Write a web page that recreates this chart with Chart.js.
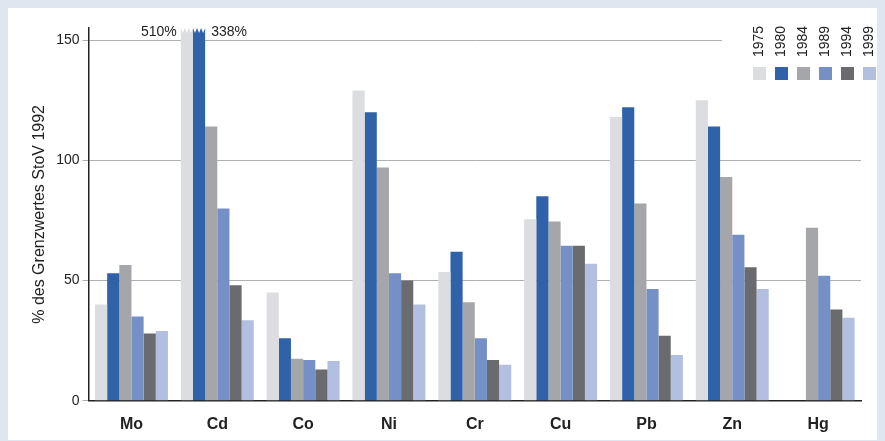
<!DOCTYPE html>
<html><head><meta charset="utf-8">
<script src="https://cdn.jsdelivr.net/npm/chart.js@4"></script>
<style>
body{margin:0;background:#dfe6f0;}
#wrap{position:absolute;left:8px;top:8px;width:869px;height:432px;background:#fff;}
</style></head><body>
<div id="wrap"><canvas id="c"></canvas></div>
<script>
const categories = ['Mo','Cd','Co','Ni','Cr','Cu','Pb','Zn','Hg'];
const years = ['1975','1980','1984','1989','1994','1999'];
const colors = ['#dcdde0','#2f62a8','#a5a6a9','#7590c6','#6a6b6f','#b3bfe0'];
const v1975 = [40, 510, 45, 129, 53.5, 75.5, 118, 125, null];
const v1980 = [53, 338, 26, 120, 62, 85, 122, 114, null];
const v1984 = [56.5, 114, 17.5, 97, 41, 74.5, 82, 93, 72];
const v1989 = [35, 80, 17, 53, 26, 64.5, 46.5, 69, 52];
const v1994 = [28, 48, 13, 50, 17, 64.5, 27, 55.5, 38];
const v1999 = [29, 33.5, 16.5, 40, 15, 57, 19, 46.5, 34.5];
const series = [v1975, v1980, v1984, v1989, v1994, v1999];
const yTicks = [0, 50, 100, 150];

const extras = {
  id: 'extras',
  beforeDatasetsDraw(chart) {
    const ctx = chart.ctx, y150 = chart.scales.y.getPixelForValue(150);
    ctx.save();
    ctx.fillStyle = '#fff';
    ctx.fillRect(714, y150 - 2, chart.chartArea.right - 714 + 1, 4);
    ctx.restore();
  },
  afterDatasetsDraw(chart) {
    const ctx = chart.ctx, top = chart.chartArea.top;
    ctx.save();
    [0, 1].forEach(d => {
      const bar = chart.getDatasetMeta(d).data[1];
      const l = bar.x - bar.width / 2, w = bar.width;
      ctx.fillStyle = '#fff';
      ctx.beginPath();
      ctx.moveTo(l - 1, top - 1);
      for (let i = 0; i <= 6; i++) ctx.lineTo(l + w * i / 6, top + (i % 2 ? 5 : 0));
      ctx.lineTo(l + w + 1, top - 1);
      ctx.fill();
    });
    ctx.fillStyle = '#222';
    ctx.font = '14px "Liberation Sans", Arial';
    ctx.textBaseline = 'middle';
    const b0 = chart.getDatasetMeta(0).data[1], b1 = chart.getDatasetMeta(1).data[1];
    ctx.textAlign = 'right';
    ctx.fillText(v1975[1] + '%', b0.x - b0.width / 2 - 4, top + 4);
    ctx.textAlign = 'left';
    ctx.fillText(v1980[1] + '%', b1.x + b1.width / 2 + 6, top + 4);
    const lx = 751, step = 22;
    years.forEach((yr, i) => {
      const x = lx + i * step;
      ctx.fillStyle = colors[i];
      ctx.fillRect(x - 6, 59, 13, 13);
      ctx.save();
      ctx.translate(x, 49);
      ctx.rotate(-Math.PI / 2);
      ctx.fillStyle = '#222';
      ctx.textAlign = 'left';
      ctx.fillText(yr, 0, 0);
      ctx.restore();
    });
    ctx.restore();
  }
};

new Chart(document.getElementById('c'), {
  type: 'bar',
  data: {
    labels: categories,
    datasets: series.map((s, i) => ({
      label: years[i], data: s, backgroundColor: colors[i],
      categoryPercentage: 0.85, barPercentage: 1.0
    }))
  },
  options: {
    responsive: true, maintainAspectRatio: false, animation: false,
    layout: { padding: { left: 18, right: 16, top: 20, bottom: 0 } },
    plugins: { legend: { display: false }, tooltip: { enabled: false } },
    scales: {
      x: {
        grid: { display: false },
        border: { color: '#222', width: 1.5 },
        ticks: { color: '#222', padding: 6, font: { family: 'Liberation Sans', size: 16, weight: 'bold' } }
      },
      y: {
        min: 0, max: 155,
        afterBuildTicks(ax) { ax.ticks = yTicks.map(v => ({ value: v })); },
        grid: { color: '#b0b0b0', drawTicks: true, tickLength: 6 },
        border: { color: '#222', width: 1.5 },
        ticks: { color: '#222', font: { family: 'Liberation Sans', size: 14 } },
        title: { display: true, text: '% des Grenzwertes StoV 1992', color: '#222',
          font: { family: 'Liberation Sans', size: 16 } }
      }
    }
  },
  plugins: [extras]
});
</script></body></html>
